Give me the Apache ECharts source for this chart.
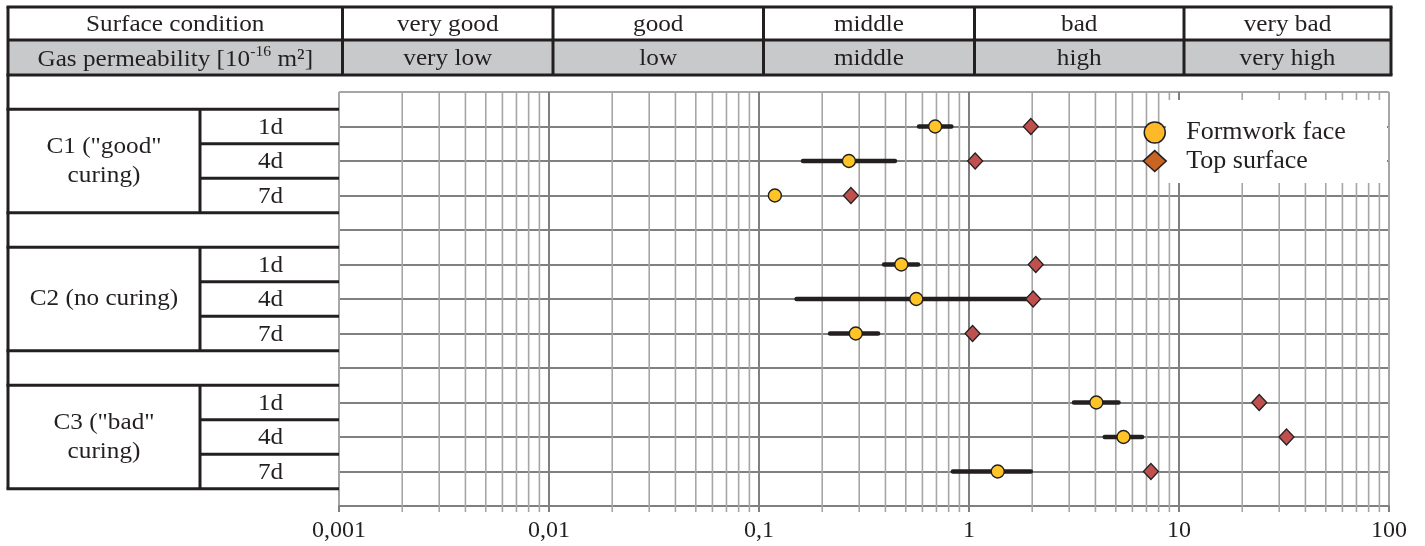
<!DOCTYPE html>
<html>
<head>
<meta charset="utf-8">
<script src="https://cdn.jsdelivr.net/npm/echarts@6/dist/echarts.min.js"></script>
<style>
html,body{margin:0;padding:0;background:#fff;}
#chart{width:1425px;height:546px;}
</style>
</head>
<body>
<div id="chart"></div>
<script>
// ---------- data ----------
const groups = ['C1 ("good"\ncuring)', 'C2 (no curing)', 'C3 ("bad"\ncuring)'];
const ages = ['1d', '4d', '7d'];
const surfaceConditions = ['very good', 'good', 'middle', 'bad', 'very bad'];
const permeabilityClasses = ['very low', 'low', 'middle', 'high', 'very high'];
const xTickLabels = ['0,001', '0,01', '0,1', '1', '10', '100'];
// order: C1 1d,4d,7d, C2 1d,4d,7d, C3 1d,4d,7d
const formworkFace = [0.69, 0.268, 0.119, 0.476, 0.561, 0.289, 4.04, 5.44, 1.37];
const formworkMin  = [0.578, 0.162, null, 0.394, 0.151, 0.218, 3.16, 4.43, 0.838];
const formworkMax  = [0.824, 0.444, null, 0.572, 2.0, 0.369, 5.15, 6.67, 1.97];
const topSurface   = [1.97, 1.07, 0.274, 2.08, 2.02, 1.04, 24.1, 32.5, 7.35];
const minorMultipliers = [2, 3, 4, 5, 6, 7, 8, 9];
const decades = [0.001, 0.01, 0.1, 1, 10];

// ---------- styles ----------
const SERIF = "'Liberation Serif', 'Times New Roman', serif";
const INK = '#231F20';
const DARK = '#808080';
const LIGHT = '#A6A6A6';

// slot on the (inverse) y axis for each group/age row; gap rows between groups
const slots = [];
groups.forEach((g, gi) => ages.forEach((a, ai) => slots.push(gi * 4 + ai + 1)));

const minorData = [];
decades.forEach(d => minorMultipliers.forEach(m => minorData.push([d * m, 0])));

const errData = [];
formworkMin.forEach((lo, i) => { if (lo != null) errData.push([lo, formworkMax[i], slots[i]]); });

const chart = echarts.init(document.getElementById('chart'));

const ySplitColors = [LIGHT];
for (let i = 0; i < 12; i++) ySplitColors.push(DARK);

chart.setOption({
  animation: false,
  backgroundColor: '#fff',
  grid: { left: 339, right: 36, top: 92, bottom: 40, containLabel: false },
  xAxis: {
    type: 'log', logBase: 10, min: 0.001, max: 100,
    axisLine: { show: true, onZero: false, lineStyle: { color: DARK, width: 2 } },
    axisTick: { show: true, length: 6, lineStyle: { color: DARK, width: 2 } },
    axisLabel: {
      formatter: v => xTickLabels[Math.round(Math.log10(v)) + 3],
      fontFamily: SERIF, fontSize: 24, color: INK, margin: 13
    },
    splitLine: { show: true, lineStyle: { color: [LIGHT, DARK, DARK, DARK, DARK, LIGHT], width: 2 } }
  },
  yAxis: {
    type: 'value', inverse: true, min: 0, max: 12, interval: 1,
    axisLine: { show: false }, axisTick: { show: false }, axisLabel: { show: false },
    splitLine: { show: true, lineStyle: { color: ySplitColors, width: 2 } }
  },
  legend: {
    orient: 'vertical', left: 1142.5, top: 119.5, z: 8, padding: 0,
    itemWidth: 23, itemHeight: 21, itemGap: 2.6,
    selectedMode: false,
    textStyle: { fontFamily: SERIF, fontSize: 26, lineHeight: 22, color: INK, padding: [0, 0, 0, 15] },
    data: [
      { name: 'Formwork face', icon: 'circle', itemStyle: { color: '#FDB927', borderColor: INK, borderWidth: 1.5 } },
      { name: 'Top surface', icon: 'diamond', itemStyle: { color: '#C86424', borderColor: INK, borderWidth: 1.5 } }
    ]
  },
  series: [
    {
      type: 'custom', name: 'minor grid', z: 1, silent: true, clip: false,
      data: minorData, encode: { x: 0, y: 1 },
      renderItem: (params, api) => {
        const x = api.coord([api.value(0), 0])[0];
        const cs = params.coordSys;
        return { type: 'line', shape: { x1: x, y1: cs.y, x2: x, y2: cs.y + cs.height + 6 },
                 style: { stroke: LIGHT, lineWidth: 1.6 } };
      }
    },
    {
      type: 'custom', name: 'range', z: 3, silent: true,
      data: errData, encode: { x: [0, 1], y: 2 },
      renderItem: (params, api) => {
        const p1 = api.coord([api.value(0), api.value(2)]);
        const p2 = api.coord([api.value(1), api.value(2)]);
        return { type: 'line', shape: { x1: p1[0], y1: p1[1], x2: p2[0], y2: p2[1] },
                 style: { stroke: INK, lineWidth: 4.5, lineCap: 'round' } };
      }
    },
    {
      type: 'scatter', name: 'Top surface', z: 4,
      symbol: 'diamond', symbolSize: [15, 16],
      itemStyle: { color: '#C0504D', borderColor: INK, borderWidth: 1.3, opacity: 1 },
      data: topSurface.map((v, i) => [v, slots[i]])
    },
    {
      type: 'scatter', name: 'Formwork face', z: 5,
      symbol: 'circle', symbolSize: 13,
      itemStyle: { color: '#FFC425', borderColor: INK, borderWidth: 1.4, opacity: 1 },
      data: formworkFace.map((v, i) => [v, slots[i]])
    }
  ]
});

// ---------- table drawn as graphics, rows aligned to the y axis ----------
const yPix = v => chart.convertToPixel({ yAxisIndex: 0 }, v);
const els = [];
const FS = 24, SX = 1.05;
const hl = (x1, x2, y, w) => els.push({ type: 'line', z: 10, shape: { x1, y1: y, x2, y2: y }, style: { stroke: INK, lineWidth: w || 3 } });
const vl = (x, y1, y2, w) => els.push({ type: 'line', z: 10, shape: { x1: x, y1, x2: x, y2 }, style: { stroke: INK, lineWidth: w || 3 } });
const txt = (x, y, text) => els.push({
  type: 'text', z: 11, x, y, scaleX: SX,
  style: { text, fontFamily: SERIF, fontSize: FS, fill: INK, align: 'center', verticalAlign: 'middle', lineHeight: 29 }
});

// header table
const colX = [8, 342.5, 553, 763.5, 974.5, 1184, 1391];
const hTop = 7, hMid = 40, hBot = 75;
els.push({ type: 'rect', z: 9, shape: { x: colX[0], y: hMid, width: colX[6] - colX[0], height: hBot - hMid }, style: { fill: '#C8C9CB' } });
hl(colX[0] - 1.5, colX[6] + 1.5, hTop);
hl(colX[0], colX[6], hMid);
hl(colX[0] - 1.5, colX[6] + 1.5, hBot);
colX.forEach(x => vl(x, hTop, hBot));
txt((colX[0] + colX[1]) / 2, (hTop + hMid) / 2 + 1, 'Surface condition');
els.push({
  type: 'text', z: 11, x: (colX[0] + colX[1]) / 2, y: (hMid + hBot) / 2 + 1, scaleX: SX,
  style: {
    text: '{n|Gas permeability [10}{s|-16}{n| m²]}',
    align: 'center', verticalAlign: 'middle',
    rich: {
      n: { fontFamily: SERIF, fontSize: FS, fill: INK, lineHeight: 27, verticalAlign: 'bottom' },
      s: { fontFamily: SERIF, fontSize: 15, fill: INK, lineHeight: 27, verticalAlign: 'top' }
    }
  }
});
surfaceConditions.forEach((s, i) => txt((colX[i + 1] + colX[i + 2]) / 2, (hTop + hMid) / 2 + 1, s));
permeabilityClasses.forEach((s, i) => txt((colX[i + 1] + colX[i + 2]) / 2, (hMid + hBot) / 2 + 1, s));

// left table
const tL = 8, tM = 200, tR = 339;
const lastBottom = yPix(slots[slots.length - 1] + 0.5);
vl(tL, hBot, lastBottom);
groups.forEach((g, gi) => {
  const first = slots[gi * ages.length], last = slots[gi * ages.length + ages.length - 1];
  const yT = yPix(first - 0.5), yB = yPix(last + 0.5);
  hl(tL - 1.5, tR, yT);
  hl(tL - 1.5, tR, yB);
  vl(tM, yT, yB);
  txt((tL + tM) / 2, (yT + yB) / 2, g);
  ages.forEach((a, ai) => {
    const s = slots[gi * ages.length + ai];
    if (ai > 0) hl(tM, tR, yPix(s - 0.5));
    txt((tM + tR) / 2 + 1, yPix(s) + 1, a);
  });
});

// white box behind the legend
els.push({ type: 'rect', z: 3, shape: { x: 1166, y: 100, width: 221, height: 83 }, style: { fill: '#fff' } });

chart.setOption({ graphic: { elements: els } });
</script>
</body>
</html>
